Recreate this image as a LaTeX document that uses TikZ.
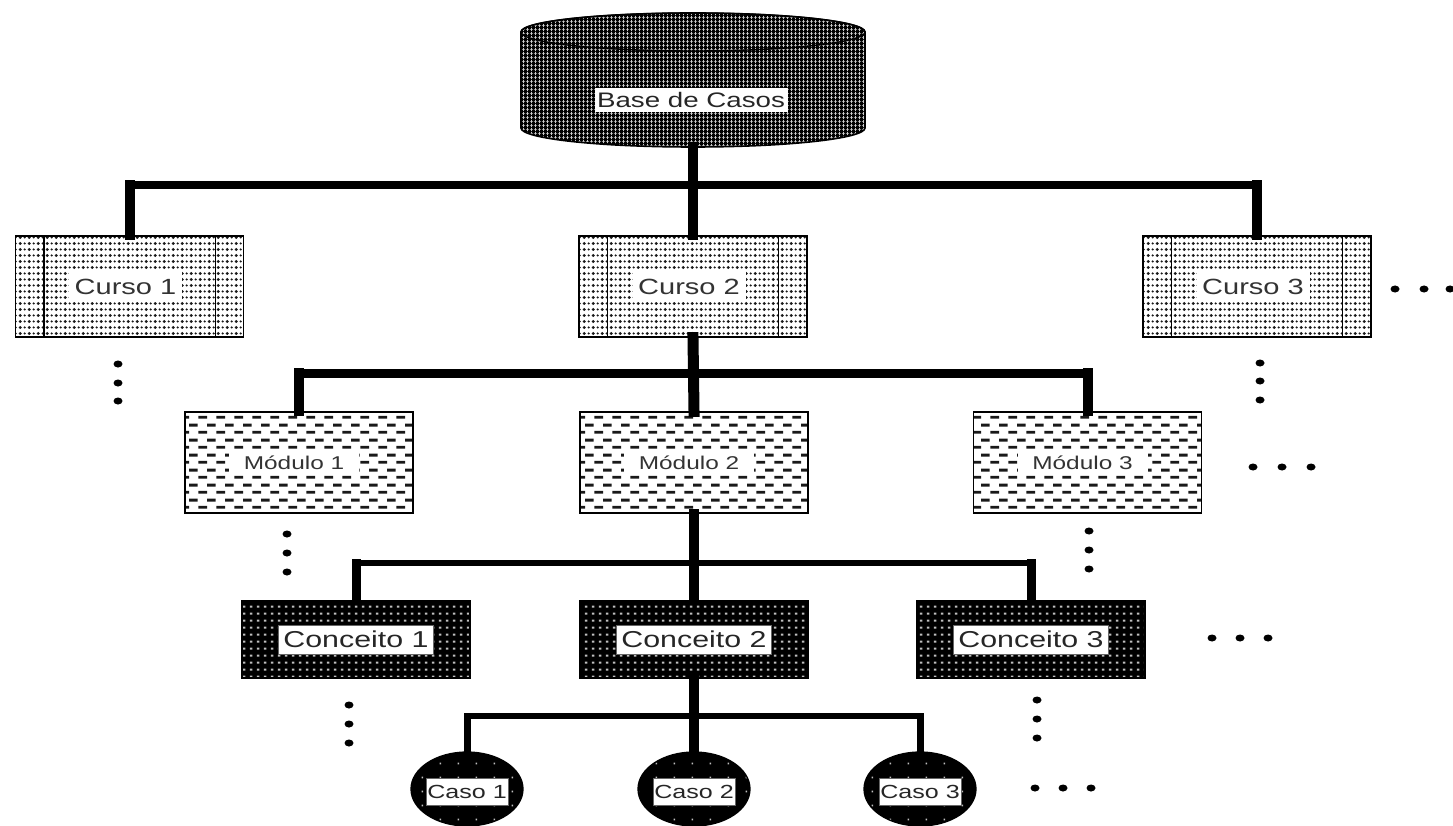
\documentclass[tikz,border=0pt]{standalone}
\usepackage{fontspec}
\setmainfont{Liberation Sans}
\newfontfamily\labfont[FakeStretch=1.32]{Liberation Sans}
\usetikzlibrary{patterns.meta,shapes.geometric}

\tikzdeclarepattern{
  name=cursopat, type=uncolored,
  bottom left={(0pt,0pt)}, top right={(9.4pt,5.5pt)},
  tile size={(9.4pt,5.5pt)},
  code={\pgfpathcircle{\pgfqpoint{2.35pt}{2.75pt}}{1.7pt}\pgfusepath{fill}
        \pgfpathcircle{\pgfqpoint{7.05pt}{2.75pt}}{1.25pt}\pgfusepath{fill}}
}
\tikzdeclarepattern{
  name=modpat, type=uncolored,
  bottom left={(0pt,0pt)}, top right={(18pt,15pt)},
  tile size={(18pt,15pt)},
  code={\pgfpathrectangle{\pgfqpoint{0.5pt}{2.5pt}}{\pgfqpoint{9pt}{2.8pt}}\pgfusepath{fill}
        \pgfpathrectangle{\pgfqpoint{9.5pt}{10pt}}{\pgfqpoint{9pt}{3.2pt}}\pgfusepath{fill}}
}
\tikzdeclarepattern{
  name=concpat, type=uncolored,
  bottom left={(0pt,0pt)}, top right={(6.7pt,7.3pt)},
  tile size={(6.7pt,7.3pt)},
  code={\pgfpathrectangle{\pgfqpoint{2pt}{2.5pt}}{\pgfqpoint{2.6pt}{2.2pt}}\pgfusepath{fill}}
}
\tikzdeclarepattern{
  name=caspat, type=uncolored,
  bottom left={(0pt,0pt)}, top right={(18pt,14pt)},
  tile size={(18pt,14pt)},
  code={\pgfpathrectangle{\pgfqpoint{8pt}{6pt}}{\pgfqpoint{1.6pt}{1.8pt}}\pgfusepath{fill}}
}
\tikzdeclarepattern{
  name=cylpat, type=uncolored,
  bottom left={(0pt,0pt)}, top right={(3.5pt,3.5pt)},
  tile size={(3.5pt,3.5pt)},
  code={\pgfpathrectangle{\pgfqpoint{1.3pt}{0pt}}{\pgfqpoint{0.9pt}{3.5pt}}\pgfusepath{fill}
        \pgfpathrectangle{\pgfqpoint{0pt}{1.5pt}}{\pgfqpoint{3.5pt}{0.5pt}}\pgfusepath{fill}}
}

\tikzset{
  cursobox/.style={draw=black, line width=1.3pt, pattern=cursopat, pattern color=black!90,
    minimum width=228pt, minimum height=101pt, inner sep=0pt},
  modbox/.style={draw=black, line width=1.3pt, pattern=modpat, pattern color=black!90,
    minimum width=228pt, minimum height=101pt, inner sep=0pt},
  concbox/.style={draw=black, line width=1.3pt, preaction={fill=black}, pattern=concpat,
    pattern color=white!75!black, minimum width=228pt, minimum height=77pt, inner sep=0pt},
  casobox/.style={ellipse, draw=black, line width=1.3pt, preaction={fill=black}, pattern=caspat,
    pattern color=white!75!black, minimum width=112pt, minimum height=74pt, inner sep=0pt},
  cylbody/.style={draw=black, line width=1.6pt, preaction={fill=black}, pattern=cylpat,
    pattern color=white!80!black},
  curlab/.style={fill=white, inner sep=0pt, minimum width=113pt, minimum height=30pt,
    text=black!80, font={\labfont\fontsize{22pt}{24pt}\selectfont}},
  modlab/.style={fill=white, inner sep=0pt, minimum width=130pt, minimum height=24pt,
    text=black!80, font={\labfont\fontsize{18.5pt}{21pt}\selectfont}},
  conlab/.style={fill=white, draw=black!60, line width=0.6pt, inner sep=0pt, minimum width=155pt,
    minimum height=29pt, text=black!85, font={\labfont\fontsize{23pt}{25pt}\selectfont}},
  caslab/.style={fill=white, draw=black!60, line width=0.6pt, inner sep=0pt, minimum width=82pt,
    minimum height=27pt, text=black!85, font={\labfont\fontsize{19pt}{21pt}\selectfont}},
  baselab/.style={fill=white, inner sep=0pt, minimum width=193pt, minimum height=24pt,
    text=black!85, font={\labfont\fontsize{21pt}{23pt}\selectfont}},
  wire/.style={line width=#1, line cap=rect, draw=black},
  dotmark/.style={fill=black},
}

\begin{document}
\begin{tikzpicture}[x=1pt,y=-1pt]
\useasboundingbox (0,0) rectangle (1453,826);

% cylinder (Base de Casos)
\path[cylbody] (521,32) -- (521,128)
  arc[start angle=180, end angle=0, x radius=172, y radius=19]
  -- (865,32)
  arc[start angle=360, end angle=180, x radius=172, y radius=19] -- cycle;
\draw[line width=1.4pt] (693,32) ellipse [x radius=172, y radius=19];
\node[minimum width=344pt, minimum height=132pt, inner sep=0pt] (base) at (693,81) {};
\node[baselab] (basel) at (691,100) {Base de Casos};

% Curso level
\node[cursobox] (c1) at (129.5,286.5) {};
\node[cursobox] (c2) at (693,286.5) {};
\node[cursobox] (c3) at (1257,286.5) {};
\foreach \n in {c1,c2,c3}{
  \draw[line width=1.3pt] (\n.north west) ++(29,0) -- ++(0,101);
  \draw[line width=1.3pt] (\n.north east) ++(-29,0) -- ++(0,101);
}
\node[curlab] (c1l) at ([xshift=-4pt]c1.center) {Curso 1};
\node[curlab] (c2l) at ([xshift=-4pt]c2.center) {Curso 2};
\node[curlab] (c3l) at ([xshift=-4pt]c3.center) {Curso 3};

% Modulo level
\node[modbox] (m1) at (299,462.5) {};
\node[modbox] (m2) at (694,462.5) {};
\node[modbox] (m3) at (1087.5,462.5) {};
\node[modlab] (m1l) at ([xshift=-5pt]m1.center) {Módulo 1};
\node[modlab] (m2l) at ([xshift=-5pt]m2.center) {Módulo 2};
\node[modlab] (m3l) at ([xshift=-5pt]m3.center) {Módulo 3};

% Conceito level
\node[concbox] (k1) at (356,639.5) {};
\node[concbox] (k2) at (694,639.5) {};
\node[concbox] (k3) at (1031,639.5) {};
\node[conlab] (k1l) at (k1.center) {Conceito 1};
\node[conlab] (k2l) at (k2.center) {Conceito 2};
\node[conlab] (k3l) at (k3.center) {Conceito 3};

% Caso level
\node[casobox] (s1) at (467,789) {};
\node[casobox] (s2) at (694,789) {};
\node[casobox] (s3) at (920,789) {};
\node[caslab] (s1l) at ([yshift=-3pt]s1.center) {Caso 1};
\node[caslab] (s2l) at ([yshift=-3pt]s2.center) {Caso 2};
\node[caslab] (s3l) at ([yshift=-3pt]s3.center) {Caso 3};

% connectors level 1
\coordinate (j1) at (693,185);
\draw[wire=10pt] (base.south) -- (c2.north);
\draw[wire=8pt] (c1.north |- j1) -- (c3.north |- j1);
\draw[wire=10pt] (c1.north) -- (c1.north |- j1);
\draw[wire=10pt] (c3.north) -- (c3.north |- j1);

% connectors level 2
\coordinate (j2) at (693,373);
\draw[wire=11pt] (c2.south) -- (m2.north);
\draw[wire=9pt] (m1.north |- j2) -- (m3.north |- j2);
\draw[wire=10pt] (m1.north) -- (m1.north |- j2);
\draw[wire=10pt] (m3.north) -- (m3.north |- j2);

% connectors level 3
\coordinate (j3) at (694,563);
\draw[wire=10pt] (m2.south) -- (k2.north);
\draw[wire=6.5pt] (k1.north |- j3) -- (k3.north |- j3);
\draw[wire=9pt] (k1.north) -- (k1.north |- j3);
\draw[wire=9pt] (k3.north) -- (k3.north |- j3);

% connectors level 4
\coordinate (j4) at (694,716);
\draw[wire=10pt] (k2.south) -- (s2.north);
\draw[wire=5.5pt] (s1.north |- j4) -- (s3.north |- j4);
\draw[wire=7pt] (s1.north) -- (s1.north |- j4);
\draw[wire=7pt] (s3.north) -- (s3.north |- j4);

% continuation dots
\foreach \x/\y in {118/364,118/383,118/401,
                   1260/363,1260/381,1260/400,
                   1395/289,1424/289,1450/289,
                   287/534,287/553,287/572,
                   1089/531,1089/550,1089/569,
                   1253/467,1282/467,1311/467,
                   349/705,349/724,349/743,
                   1037/700,1037/719,1037/738,
                   1212/638,1240/638,1268/638,
                   1035/788,1063/788,1091/788}{
  \fill[dotmark] (\x,\y) ellipse [x radius=4.5, y radius=3.5];
}
\end{tikzpicture}
\end{document}
